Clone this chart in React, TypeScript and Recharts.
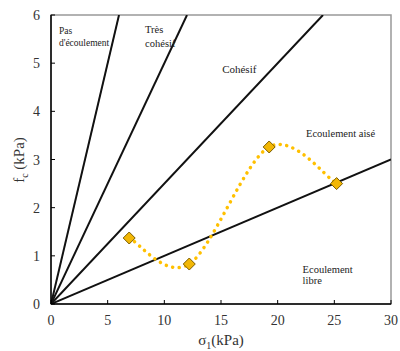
import React from 'react';
import { ComposedChart, Line, XAxis, YAxis, ReferenceArea, ReferenceDot } from 'recharts';

const xTicks = [0, 5, 10, 15, 20, 25, 30];
const yTicks = [0, 1, 2, 3, 4, 5, 6];

// Flow function boundary lines (origin to edge of plot)
const lineNoFlow = [{ x: 0, y: 0 }, { x: 6, y: 6 }];
const lineVeryCohesive = [{ x: 0, y: 0 }, { x: 12, y: 6 }];
const lineCohesive = [{ x: 0, y: 0 }, { x: 24, y: 6 }];
const lineEasyFlow = [{ x: 0, y: 0 }, { x: 30, y: 3 }];

// Measured points
const sigma1 = [6.9, 12.2, 19.25, 25.2];
const fc = [1.37, 0.83, 3.26, 2.5];
const measured = sigma1.map((x, i) => ({ x, y: fc[i] }));

const regionLabels = [
  { x: 0.7, y: 5.68, text: 'Pas', size: 9.5 },
  { x: 0.7, y: 5.42, text: "d'écoulement", size: 9.5 },
  { x: 8.3, y: 5.7, text: 'Très', size: 10.5 },
  { x: 8.3, y: 5.42, text: 'cohésif', size: 10.5 },
  { x: 15.1, y: 4.88, text: 'Cohésif', size: 11 },
  { x: 22.5, y: 3.55, text: 'Ecoulement  aisé', size: 10.5 },
  { x: 22.2, y: 0.73, text: 'Ecoulement', size: 10.5 },
  { x: 22.2, y: 0.5, text: 'libre', size: 10.5 },
];

const FONT = '"Liberation Serif", "DejaVu Serif", serif';

// Excel-like smoothed line (uniform Catmull-Rom converted to cubic Bezier)
const smoothCurve: any = (context: any) => {
  let xs: number[] = [];
  let ys: number[] = [];
  return {
    areaStart() {},
    areaEnd() {},
    lineStart() {
      xs = [];
      ys = [];
    },
    point(x: number, y: number) {
      xs.push(+x);
      ys.push(+y);
    },
    lineEnd() {
      const n = xs.length;
      if (!n) return;
      context.moveTo(xs[0], ys[0]);
      for (let i = 0; i < n - 1; i++) {
        const i0 = Math.max(0, i - 1);
        const i3 = Math.min(n - 1, i + 2);
        const c1x = xs[i] + (xs[i + 1] - xs[i0]) / 6;
        const c1y = ys[i] + (ys[i + 1] - ys[i0]) / 6;
        const c2x = xs[i + 1] - (xs[i3] - xs[i]) / 6;
        const c2y = ys[i + 1] - (ys[i3] - ys[i]) / 6;
        context.bezierCurveTo(c1x, c1y, c2x, c2y, xs[i + 1], ys[i + 1]);
      }
    },
  };
};

const XTick = (props: any) => {
  const { x, y, payload } = props;
  return (
    <g>
      <line x1={x} x2={x} y1={y} y2={y - 4} stroke="#000" strokeWidth={1} />
      <text x={x} y={y + 21} textAnchor="middle" fontSize={14} fontFamily={FONT} style={{ fontFamily: FONT }} fill="#333">
        {payload.value}
      </text>
    </g>
  );
};

const YTick = (props: any) => {
  const { x, y, payload } = props;
  return (
    <g>
      <line x1={x} x2={x + 4} y1={y} y2={y} stroke="#000" strokeWidth={1} />
      <text x={x - 11} y={y + 5} textAnchor="end" fontSize={14} fontFamily={FONT} style={{ fontFamily: FONT }} fill="#333">
        {payload.value}
      </text>
    </g>
  );
};

const Diamond = (props: any) => {
  const { cx, cy } = props;
  if (cx == null || cy == null) return null;
  const r = 6;
  return (
    <polygon
      points={`${cx},${cy - r} ${cx + r},${cy} ${cx},${cy + r} ${cx - r},${cy}`}
      fill="#F2B705"
      stroke="#7a5c00"
      strokeWidth={1}
    />
  );
};

const YTitle = () => (
  <text transform="translate(24,160) rotate(-90)" textAnchor="middle" fontSize={15} fontFamily={FONT} style={{ fontFamily: FONT }} fill="#333">
    <tspan>f</tspan>
    <tspan fontSize={10} dy={4}>c</tspan>
    <tspan dy={-4}> (kPa)</tspan>
  </text>
);

const XTitle = () => (
  <text x={221} y={345} textAnchor="middle" fontSize={15} fontFamily={FONT} style={{ fontFamily: FONT }} fill="#333">
    <tspan>σ</tspan>
    <tspan fontSize={10} dy={4}>1</tspan>
    <tspan dy={-4}>(kPa)</tspan>
  </text>
);

const makeRegionLabel = (text: string, size: number) => (props: any) => {
  const vb = props.viewBox || {};
  return (
    <text
      x={vb.x}
      y={vb.y}
      dy="0.35em"
      textAnchor="start"
      fontSize={size}
      fontFamily={FONT}
      style={{ fontFamily: FONT }}
      fill="#222"
    >
      {text}
    </text>
  );
};

export default function App() {
  return (
    <div style={{ position: 'absolute', left: 0, top: 0, width: 400, height: 351 }}>
      <ComposedChart width={400} height={351} margin={{ top: 15, right: 9, bottom: 0, left: 0 }}>
        <XAxis
          type="number"
          dataKey="x"
          domain={[0, 30]}
          ticks={xTicks}
          allowDataOverflow
          height={47}
          tickSize={0}
          tickMargin={0}
          tickLine={false}
          tick={<XTick />}
          axisLine={{ stroke: '#000', strokeWidth: 1.5 }}
          label={<XTitle />}
        />
        <YAxis
          type="number"
          dataKey="y"
          domain={[0, 6]}
          ticks={yTicks}
          allowDataOverflow
          width={51}
          tickSize={0}
          tickMargin={0}
          tickLine={false}
          tick={<YTick />}
          axisLine={{ stroke: '#000', strokeWidth: 1.5 }}
          label={<YTitle />}
        />
        <ReferenceArea x1={0} x2={30} y1={0} y2={6} fill="none" stroke="#999" strokeWidth={1.5} />
        <Line data={lineNoFlow} dataKey="y" type="linear" stroke="#111" strokeWidth={2} dot={false} isAnimationActive={false} />
        <Line data={lineVeryCohesive} dataKey="y" type="linear" stroke="#111" strokeWidth={2} dot={false} isAnimationActive={false} />
        <Line data={lineCohesive} dataKey="y" type="linear" stroke="#111" strokeWidth={2} dot={false} isAnimationActive={false} />
        <Line data={lineEasyFlow} dataKey="y" type="linear" stroke="#111" strokeWidth={2} dot={false} isAnimationActive={false} />
        <Line
          data={measured}
          dataKey="y"
          type={smoothCurve}
          stroke="#FFC000"
          strokeWidth={3.5}
          strokeDasharray="0.1 6.5"
          strokeLinecap="round"
          dot={<Diamond />}
          activeDot={false}
          isAnimationActive={false}
        />
        {regionLabels.map((l, i) => (
          <ReferenceDot
            key={i}
            x={l.x}
            y={l.y}
            r={0}
            fill="none"
            stroke="none"
            label={{ content: makeRegionLabel(l.text, l.size) } as any}
          />
        ))}
      </ComposedChart>
    </div>
  );
}
